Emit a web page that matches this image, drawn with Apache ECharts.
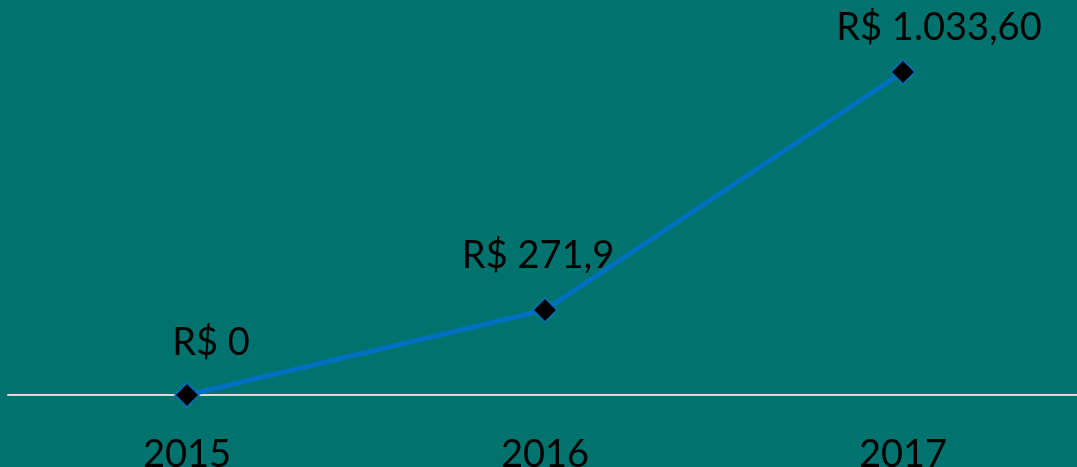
<!DOCTYPE html>
<html><head><meta charset="utf-8">
<script src="https://cdn.jsdelivr.net/npm/echarts@6/dist/echarts.min.js"></script>
<style>html,body{margin:0;padding:0;background:#00736E;}#c{width:1077px;height:467px;}</style>
</head><body><div id="c"></div>
<script>
const categories = ['2015', '2016', '2017'];
const values = [0, 271.9, 1033.6];
const labelTexts = ['R$ 0', 'R$ 271,9', 'R$ 1.033,60'];
const labelOffsets = [[24, 2], [-7, 0], [36, 10]];

const chart = echarts.init(document.getElementById('c'));
chart.setOption({
  backgroundColor: '#00736E',
  animation: false,
  grid: { left: 8, right: -5, top: 72, bottom: 72, containLabel: false, outerBoundsMode: 'none' },
  xAxis: {
    type: 'category', data: categories, boundaryGap: true,
    axisLine: { lineStyle: { color: '#D9D9D9', width: 2 } },
    axisTick: { show: false },
    axisLabel: { color: '#000', fontFamily: 'Lato, "Open Sans", sans-serif', fontSize: 38, margin: 41 }
  },
  yAxis: { type: 'value', min: 0, max: 1033.6, show: false, splitLine: { show: false } },
  series: [{
    type: 'line', data: values.map((v, i) => ({
      value: v,
      label: { show: true, formatter: labelTexts[i], offset: labelOffsets[i] }
    })),
    lineStyle: { color: '#0070C0', width: 5 },
    symbol: 'diamond', symbolSize: 24,
    itemStyle: { color: '#000', borderColor: '#0070C0', borderWidth: 1.5 },
    label: { position: 'top', distance: 23, color: '#000', fontSize: 38, fontFamily: 'Lato, "Open Sans", sans-serif' }
  }]
});
</script></body></html>
